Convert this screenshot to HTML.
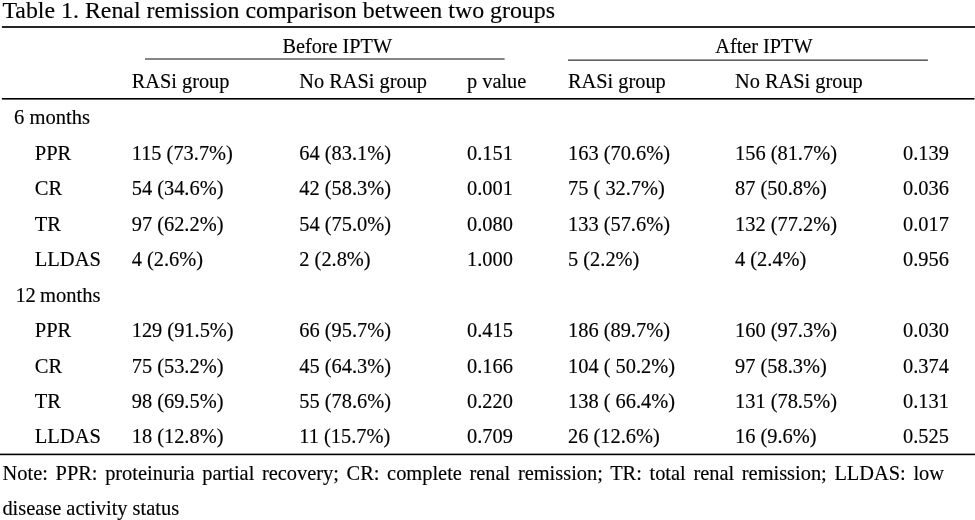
<!DOCTYPE html>
<html><head><meta charset="utf-8"><title>Table 1</title>
<style>
html,body{margin:0;padding:0;background:#fff;}
body{width:975px;height:520px;position:relative;overflow:hidden;font-family:"Liberation Serif",serif;color:#000;}
.t{position:absolute;white-space:pre;line-height:1;-webkit-text-stroke:0.15px #000;}
.r{position:absolute;background:#000;}
</style></head><body>
<svg width="975" height="520" viewBox="0 0 975 520" style="position:absolute;left:0;top:0">
<rect x="1.9" y="26.15" width="973.1" height="1.7" fill="#000"/>
<rect x="145" y="58" width="359.6" height="2" fill="#868686"/>
<rect x="568" y="59.62" width="359.9" height="1.0" fill="#000"/>
<rect x="1.9" y="98.0" width="972.6" height="1.6" fill="#000"/>
<rect x="0" y="453.6" width="975" height="1.6" fill="#000"/>
</svg>
<span class="t title" style="left:2.40px;top:-1.00px;font-size:23.88px;">Table 1. Renal remission comparison between two groups</span>
<span class="t " style="left:282.40px;top:36.34px;font-size:20.25px;">Before IPTW</span>
<span class="t " style="left:715.30px;top:36.34px;font-size:20.25px;">After IPTW</span>
<span class="t " style="left:131.70px;top:71.26px;font-size:20.35px;">RASi group</span>
<span class="t " style="left:299.30px;top:71.26px;font-size:20.35px;">No RASi group</span>
<span class="t " style="left:467.00px;top:71.26px;font-size:20.35px;">p value</span>
<span class="t " style="left:568.00px;top:71.26px;font-size:20.35px;">RASi group</span>
<span class="t " style="left:735.00px;top:71.26px;font-size:20.35px;">No RASi group</span>
<span class="t " style="left:14.10px;top:106.79px;font-size:20.55px;">6 months</span>
<span class="t " style="left:34.75px;top:142.79px;font-size:20.55px;">PPR</span>
<span class="t " style="left:131.70px;top:142.91px;font-size:20.4px;">115 (73.7%)</span>
<span class="t " style="left:299.30px;top:142.91px;font-size:20.4px;">64 (83.1%)</span>
<span class="t " style="left:467.00px;top:142.91px;font-size:20.4px;">0.151</span>
<span class="t " style="left:568.00px;top:142.91px;font-size:20.4px;">163 (70.6%)</span>
<span class="t " style="left:735.00px;top:142.91px;font-size:20.4px;">156 (81.7%)</span>
<span class="t " style="left:903.00px;top:142.91px;font-size:20.4px;">0.139</span>
<span class="t " style="left:34.75px;top:177.79px;font-size:20.55px;">CR</span>
<span class="t " style="left:131.70px;top:177.91px;font-size:20.4px;">54 (34.6%)</span>
<span class="t " style="left:299.30px;top:177.91px;font-size:20.4px;">42 (58.3%)</span>
<span class="t " style="left:467.00px;top:177.91px;font-size:20.4px;">0.001</span>
<span class="t " style="left:568.00px;top:177.91px;font-size:20.4px;">75 ( 32.7%)</span>
<span class="t " style="left:735.00px;top:177.91px;font-size:20.4px;">87 (50.8%)</span>
<span class="t " style="left:903.00px;top:177.91px;font-size:20.4px;">0.036</span>
<span class="t " style="left:34.75px;top:213.79px;font-size:20.55px;">TR</span>
<span class="t " style="left:131.70px;top:213.91px;font-size:20.4px;">97 (62.2%)</span>
<span class="t " style="left:299.30px;top:213.91px;font-size:20.4px;">54 (75.0%)</span>
<span class="t " style="left:467.00px;top:213.91px;font-size:20.4px;">0.080</span>
<span class="t " style="left:568.00px;top:213.91px;font-size:20.4px;">133 (57.6%)</span>
<span class="t " style="left:735.00px;top:213.91px;font-size:20.4px;">132 (77.2%)</span>
<span class="t " style="left:903.00px;top:213.91px;font-size:20.4px;">0.017</span>
<span class="t " style="left:34.75px;top:248.79px;font-size:20.55px;">LLDAS</span>
<span class="t " style="left:131.70px;top:248.91px;font-size:20.4px;">4 (2.6%)</span>
<span class="t " style="left:299.30px;top:248.91px;font-size:20.4px;">2 (2.8%)</span>
<span class="t " style="left:467.00px;top:248.91px;font-size:20.4px;">1.000</span>
<span class="t " style="left:568.00px;top:248.91px;font-size:20.4px;">5 (2.2%)</span>
<span class="t " style="left:735.00px;top:248.91px;font-size:20.4px;">4 (2.4%)</span>
<span class="t " style="left:903.00px;top:248.91px;font-size:20.4px;">0.956</span>
<span class="t " style="left:15.60px;top:284.79px;font-size:20.55px;"><span style="letter-spacing:-0.45px">12 </span>months</span>
<span class="t " style="left:34.75px;top:319.79px;font-size:20.55px;">PPR</span>
<span class="t " style="left:131.70px;top:319.92px;font-size:20.4px;">129 (91.5%)</span>
<span class="t " style="left:299.30px;top:319.92px;font-size:20.4px;">66 (95.7%)</span>
<span class="t " style="left:467.00px;top:319.92px;font-size:20.4px;">0.415</span>
<span class="t " style="left:568.00px;top:319.92px;font-size:20.4px;">186 (89.7%)</span>
<span class="t " style="left:735.00px;top:319.92px;font-size:20.4px;">160 (97.3%)</span>
<span class="t " style="left:903.00px;top:319.92px;font-size:20.4px;">0.030</span>
<span class="t " style="left:34.75px;top:355.79px;font-size:20.55px;">CR</span>
<span class="t " style="left:131.70px;top:355.92px;font-size:20.4px;">75 (53.2%)</span>
<span class="t " style="left:299.30px;top:355.92px;font-size:20.4px;">45 (64.3%)</span>
<span class="t " style="left:467.00px;top:355.92px;font-size:20.4px;">0.166</span>
<span class="t " style="left:568.00px;top:355.92px;font-size:20.4px;">104 ( 50.2%)</span>
<span class="t " style="left:735.00px;top:355.92px;font-size:20.4px;">97 (58.3%)</span>
<span class="t " style="left:903.00px;top:355.92px;font-size:20.4px;">0.374</span>
<span class="t " style="left:34.75px;top:390.79px;font-size:20.55px;">TR</span>
<span class="t " style="left:131.70px;top:390.92px;font-size:20.4px;">98 (69.5%)</span>
<span class="t " style="left:299.30px;top:390.92px;font-size:20.4px;">55 (78.6%)</span>
<span class="t " style="left:467.00px;top:390.92px;font-size:20.4px;">0.220</span>
<span class="t " style="left:568.00px;top:390.92px;font-size:20.4px;">138 ( 66.4%)</span>
<span class="t " style="left:735.00px;top:390.92px;font-size:20.4px;">131 (78.5%)</span>
<span class="t " style="left:903.00px;top:390.92px;font-size:20.4px;">0.131</span>
<span class="t " style="left:34.75px;top:425.79px;font-size:20.55px;">LLDAS</span>
<span class="t " style="left:131.70px;top:425.92px;font-size:20.4px;">18 (12.8%)</span>
<span class="t " style="left:299.30px;top:425.92px;font-size:20.4px;">11 (15.7%)</span>
<span class="t " style="left:467.00px;top:425.92px;font-size:20.4px;">0.709</span>
<span class="t " style="left:568.00px;top:425.92px;font-size:20.4px;">26 (12.6%)</span>
<span class="t " style="left:735.00px;top:425.92px;font-size:20.4px;">16 (9.6%)</span>
<span class="t " style="left:903.00px;top:425.92px;font-size:20.4px;">0.525</span>
<span class="t note" style="left:2.60px;top:462.92px;font-size:20.4px;word-spacing:2.55px;">Note: PPR: proteinuria partial recovery; CR: complete renal remission; TR: total renal remission; LLDAS: low</span>
<span class="t note" style="left:2.40px;top:497.92px;font-size:20.4px;">disease activity status</span>
</body></html>
